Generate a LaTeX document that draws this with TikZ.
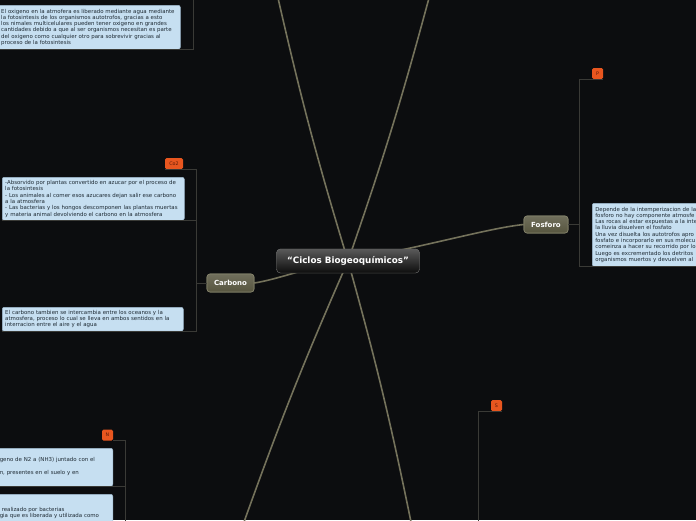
\documentclass[tikz,border=0pt]{standalone}
\usepackage{fontspec}
\setmainfont{DejaVu Sans}
\definecolor{bgc}{HTML}{0C0D0F}
\definecolor{branchc}{HTML}{74725B}
\definecolor{brkc}{HTML}{3A3A36}
\definecolor{boxfill}{HTML}{C6DFF1}
\definecolor{boxedge}{HTML}{9DB7CC}
\definecolor{boxtext}{HTML}{1E2A33}
\definecolor{lblfill}{HTML}{E8561F}
\definecolor{lbltext}{HTML}{5A1A08}
\definecolor{topicfill}{HTML}{57553F}
\definecolor{topicedge}{HTML}{85836B}
\tikzset{
  branch/.style={draw=branchc, line width=1.6pt},
  brk/.style={draw=brkc, line width=1pt},
  rootnode/.style={rounded corners=4pt, top color=black!65, bottom color=black!95, draw=black!60,
    minimum width=143pt, minimum height=24pt, text=white, inner sep=0pt,
    font=\fontsize{8.8}{10}\bfseries\selectfont},
  topic/.style={rounded corners=3pt, top color=topicfill!85!white, bottom color=topicfill, draw=topicedge,
    line width=0.6pt, text=white, inner sep=0pt, font=\fontsize{7}{8}\bfseries\selectfont},
  lbl/.style={rounded corners=1.5pt, fill=lblfill, text=lbltext, inner sep=0pt,
    minimum height=11pt, font=\fontsize{4.8}{5}\selectfont},
  infobox/.style={rounded corners=2pt, fill=boxfill, draw=boxedge, line width=0.5pt, text=boxtext,
    align=left, anchor=north west, inner xsep=3pt, inner ysep=3pt,
    font=\fontsize{5.45}{6.3}\selectfont},
}
\begin{document}
\begin{tikzpicture}[x=1pt,y=-1pt]
\fill[bgc] (0,0) rectangle (696,520);
\useasboundingbox (0,0) rectangle (696,520);
\clip (0,0) rectangle (696,520);

% off-canvas ends of the main branches and bracket bars
\coordinate (tl) at (278,-2);
\coordinate (tr) at (429,-2);
\coordinate (bl) at (244,522);
\coordinate (br) at (411,522);
\coordinate (cbar) at (196,0);
\coordinate (fbar) at (579,0);
\coordinate (nbar) at (125,0);
\coordinate (sbar) at (478,0);
\coordinate (tlbar) at (193,-2);
\coordinate (nend) at (125,522);
\coordinate (send) at (478,522);

% main topics (positions)
\node[rootnode] (root) at (348,261) {“Ciclos Biogeoquímicos”};
\node[topic, minimum width=47pt, minimum height=18pt] (carbono) at (230.5,283) {Carbono};
\node[topic, minimum width=44pt, minimum height=17pt] (fosforo) at (546,224.5) {Fosforo};

% branches
\draw[branch] (root.center) to[bend left=2] (tl);
\draw[branch] (root.center) to[bend right=2] (tr);
\draw[branch] (root.center) to[bend right=2] (bl);
\draw[branch] (root.center) to[bend left=2] (br);
\draw[branch] (root.center) .. controls (310,266) and (280,279) .. (carbono.east);
\draw[branch] (root.center) .. controls (440,243) and (490,228) .. (fosforo.west);

% nodes drawn again above the branches
\node[rootnode] at (root.center) {“Ciclos Biogeoquímicos”};
\node[topic, minimum width=47pt, minimum height=18pt] at (carbono.center) {Carbono};
\node[topic, minimum width=44pt, minimum height=17pt] at (fosforo.center) {Fosforo};

% labels
\node[lbl, minimum width=18pt] (co2) at (174,163.5) {Co2};
\node[lbl, minimum width=11pt] (p) at (597.5,73.5) {P};
\node[lbl, minimum width=11pt] (n) at (107.5,435) {N};
\node[lbl, minimum width=11pt] (s) at (496.5,405.5) {S};

% info boxes
\node[infobox, text width=176pt, minimum height=44pt] (ox) at (-2,5) {El oxigeno en la atmofera es liberado mediante agua mediante\\la fotosintesis de los organismos autotrofos, gracias a esto\\los nimales multicelulares pueden tener oxigeno en grandes\\cantidades debido a que al ser organismos necesitan es parte\\del oxigeno como cualquier otro para sobrevivir gracias al\\proceso de la fotosintesis};

\node[infobox, text width=176pt, minimum height=43pt] (c1box) at (2,177) {-Absorvido por plantas convertido en azucar por el proceso de\\la fotosintesis\\- Los animales al comer esos azucares dejan salir ese carbono\\a la atmosfera\\- Las bacterias y los hongos descomponen las plantas muertas\\y materia animal devolviendo el carbono en la atmosfera};

\node[infobox, text width=175pt, minimum height=23pt] (c2box) at (2,307) {El carbono tambien se intercambia entre los oceanos y la\\atmosfera, proceso lo cual se lleva en ambos sentidos en la\\interracion entre el aire y el agua};

\node[infobox, text width=160pt, minimum height=63pt] (fbox) at (592,203) {Depende de la intemperizacion de la\\fosforo no hay componente atmosfe\\Las rocas al estar expuestas a la inte\\la lluvia disuelven el fosfato\\Una vez disuelta los autotrofos apro\\fosfato e incorporarlo en sus molecu\\comeinza a hacer su recorrido por lo\\Luego es excrementado los detritos\\organismos muertos y devuelven al};

\node[infobox, text width=110pt, minimum height=38pt, anchor=north east] (n1box) at (113,448) {\mbox{}\\[1.5pt]geno de N2 a (NH3) juntado con el\\\mbox{}\\[1pt]n, presentes en el suelo y en\\\mbox{}};

\node[infobox, text width=110pt, minimum height=40pt, anchor=north east] (n2box) at (113,494) {\mbox{}\\[-4pt]\hspace*{2pt}realizado por bacterias\\gia que es liberada y utilizada como};

% brackets
\draw[brk] (ox.south west) -- (ox.south -| tlbar) -- (tlbar);
\draw[brk] (co2.south west) -- (co2.south -| cbar) -- (c2box.south -| cbar) -- (c2box.south west);
\draw[brk] (c1box.south west) -- (c1box.south -| cbar);
\draw[brk] (carbono.west) -- (carbono.west -| cbar);
\draw[brk] (p.south east) -- (p.south -| fbar) -- (fbox.south -| fbar) -- (fbox.south east);
\draw[brk] (fosforo.east) -- (fosforo.east -| fbar);
\draw[brk] (n.south east) -- (n.south -| nbar) -- (nend);
\draw[brk] (n1box.south west) -- (n1box.south -| nbar);
\draw[brk] (s.south east) -- (s.south -| sbar) -- (send);
\end{tikzpicture}
\end{document}
